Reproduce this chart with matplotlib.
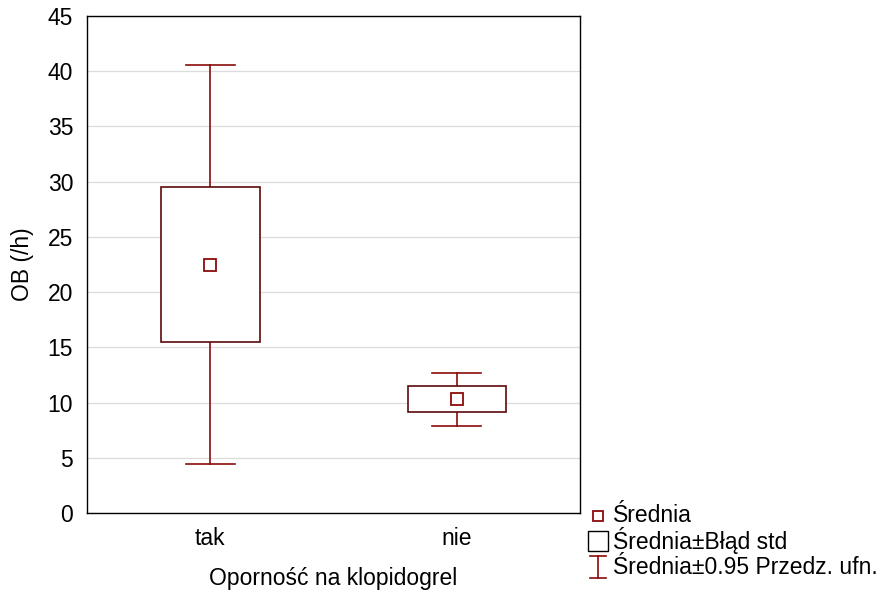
import matplotlib
matplotlib.use("Agg")
import matplotlib.pyplot as plt
from matplotlib.patches import Rectangle
from matplotlib.lines import Line2D

plt.rcParams['font.family'] = ['Liberation Sans', 'DejaVu Sans']

# OB (/h) by clopidogrel resistance
groups = ['tak', 'nie']
means = [22.5, 10.3]
se_low = [15.5, 9.15]
se_high = [29.55, 11.5]
ci_low = [4.45, 7.9]
ci_high = [40.6, 12.65]

box_col = '#5c0a0a'
line_col = '#8b0b0b'
fs = 16.5

fig = plt.figure(figsize=(8.89, 5.92), dpi=100)
ax = fig.add_axes([0.098, 0.1334, 0.5545, 0.8396])

box_w = 0.4
cap_w = 0.2
for i, g in enumerate(groups):
    # whiskers (95% CI)
    ax.plot([i, i], [ci_low[i], se_low[i]], color=line_col, lw=1.2, zorder=2)
    ax.plot([i, i], [se_high[i], ci_high[i]], color=line_col, lw=1.2, zorder=2)
    ax.plot([i - cap_w / 2, i + cap_w / 2], [ci_low[i]] * 2, color=line_col, lw=1.2, zorder=2)
    ax.plot([i - cap_w / 2, i + cap_w / 2], [ci_high[i]] * 2, color=line_col, lw=1.2, zorder=2)
    # box (mean +/- std error)
    ax.add_patch(Rectangle((i - box_w / 2, se_low[i]), box_w, se_high[i] - se_low[i],
                           facecolor='white', edgecolor=box_col, lw=1.2, zorder=3))
    # mean
    ax.plot(i, means[i], marker='s', ms=8, mfc='white', mec=line_col, mew=1.3, zorder=4)

ax.set_xlim(-0.5, 1.5)
ax.set_ylim(0, 45)
ax.set_yticks(range(0, 46, 5))
ax.set_xticks(range(len(groups)))
ax.set_xticklabels(groups)
ax.yaxis.grid(True, color='#dcdcdc', lw=0.9)
ax.set_axisbelow(True)
ax.tick_params(axis='y', length=0, pad=10, labelsize=fs)
ax.tick_params(axis='x', length=0, pad=10, labelsize=fs)
for s in ax.spines.values():
    s.set_linewidth(1.0)
ax.set_ylabel('OB (/h)', fontsize=fs, labelpad=10)
ax.set_xlabel('Oporność na klopidogrel', fontsize=fs, labelpad=12)

# legend drawn in figure pixel coordinates
tr = fig.dpi_scale_trans
def px(x, y):
    return (x / 100, (592 - y) / 100)

leg_x = 598
rows = [516, 541, 567]
labels = ['Średnia', 'Średnia±Błąd std', 'Średnia±0.95 Przedz. ufn.']

fig.add_artist(Line2D([px(leg_x, 0)[0]], [px(0, rows[0])[1]], transform=tr, marker='s',
                      ms=7.5, mfc='white', mec=line_col, mew=1.3, ls='none'))
x0, y0 = px(leg_x - 10, rows[1] + 10)
fig.add_artist(Rectangle((x0, y0), 0.20, 0.20, transform=tr, facecolor='white',
                         edgecolor='black', lw=1.0))
xa, ya = px(leg_x - 8, rows[2] - 11)
xb, yb = px(leg_x + 8, rows[2] + 11)
xm = px(leg_x, 0)[0]
for seg in ([xa, xb], [ya, ya]), ([xa, xb], [yb, yb]), ([xm, xm], [ya, yb]):
    fig.add_artist(Line2D(seg[0], seg[1], transform=tr, color=line_col, lw=1.2))

for r, lab in zip(rows, labels):
    fig.text(*px(613, r), lab, transform=tr, va='center', ha='left', fontsize=fs)

fig.savefig('out.png', dpi=100)
